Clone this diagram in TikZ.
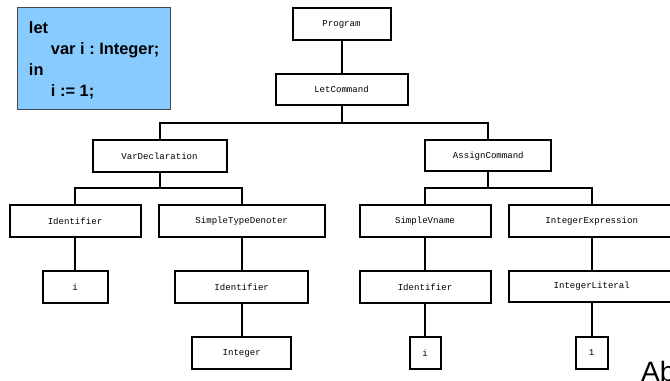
\documentclass[tikz,border=0pt]{standalone}
\usepackage{fontspec}
\setsansfont{Liberation Sans}
\setmonofont{Liberation Mono}
\definecolor{codeblue}{RGB}{136,204,255}

\tikzset{every picture/.style={line width=0.75pt}}
\tikzset{
	astbox/.style={draw, line width=1.5pt, minimum height=23.6pt, inner sep=0pt, font=\ttfamily\fontsize{6.8pt}{8pt}\selectfont},
	astedge/.style={line width=1.5pt},
	codebox/.style={draw={rgb, 255:red, 70; green, 70; blue, 70}, fill=codeblue, line width=0.75pt, inner sep=0pt, align=left, font=\sffamily\bfseries\frenchspacing\fontsize{12.3pt}{15.75pt}\selectfont}
}

\begin{document}
\begin{tikzpicture}[x=0.75pt,y=0.75pt,yscale=-1,xscale=1]
		%set diagram left start at 0, and has height of 381
		\useasboundingbox (0,0) rectangle (670,381);
		\clip (0,0) rectangle (670,381);
		
		%Shape: Rectangle (source text)
		\node [codebox, minimum width=114.5pt, minimum height=76.3pt] (code) at (94.2,58.7) {\rule{0pt}{12pt}let\\\hspace*{16.5pt}var i : Integer;\\in\\\hspace*{16.5pt}i := 1;};
		
		%Shape: Rectangle (tree nodes)
		\node [astbox, minimum width=73.5pt] (prog) at (341.5,24) {Program};
		\node [astbox, minimum width=99pt] (letcmd) at (341.5,89.7) {LetCommand};
		\node [astbox, minimum width=100.5pt] (vardecl) at (159.5,156) {VarDeclaration};
		\node [astbox, minimum width=94.5pt] (assign) at (488.3,155.7) {AssignCommand};
		
		\node [astbox, minimum width=98.25pt] (ident) at (75,221) {Identifier};
		\node [astbox, minimum width=124.5pt] (simpletd) at (241.7,221) {SimpleTypeDenoter};
		\node [astbox, minimum width=98.25pt] (svname) at (425,221) {SimpleVname};
		\node [astbox, minimum width=124.5pt] (intexpr) at (591.7,221) {IntegerExpression};
		
		\node [astbox, minimum width=48.75pt] (declname) at (75,287) {i};
		\node [astbox, minimum width=99.75pt] (typeident) at (241.7,287) {Identifier};
		\node [astbox, minimum width=98.25pt] (varident) at (425,287) {Identifier};
		\node [astbox, minimum width=124.5pt] (intlit) at (591.7,286.5) {IntegerLiteral};
		
		\node [astbox, minimum width=74.25pt] (typename) at (241.7,353) {Integer};
		\node [astbox, minimum width=23.25pt] (varname) at (425,353) {i};
		\node [astbox, minimum width=24pt] (digit) at (591.7,353) {1};
		
		%Straight Lines
		\draw [astedge] (prog) -- (letcmd) ;
		\draw [astedge] (letcmd.south) -- ++(0,16.2) -| (vardecl.north) ;
		\draw [astedge] (letcmd.south) -- ++(0,16.2) -| (assign.north) ;
		\draw [astedge] (vardecl.south) -- ++(0,15.3) -| (ident.north) ;
		\draw [astedge] (vardecl.south) -- ++(0,15.3) -| (simpletd.north) ;
		\draw [astedge] (assign.south) -- ++(0,15.8) -| (svname.north) ;
		\draw [astedge] (assign.south) -- ++(0,15.8) -| (intexpr.north) ;
		
		\draw [astedge] (ident) -- (declname) ;
		\draw [astedge] (simpletd) -- (typeident) ;
		\draw [astedge] (typeident) -- (typename) ;
		\draw [astedge] (svname) -- (varident) ;
		\draw [astedge] (varident) -- (varname) ;
		\draw [astedge] (intexpr) -- (intlit) ;
		\draw [astedge] (intlit) -- (digit) ;
		
		% Text Node
		\node [anchor=base west, inner sep=0pt, font=\sffamily\fontsize{21pt}{25pt}\selectfont] (title) at (640.7,381) {Ab};
		
\end{tikzpicture}
\end{document}
